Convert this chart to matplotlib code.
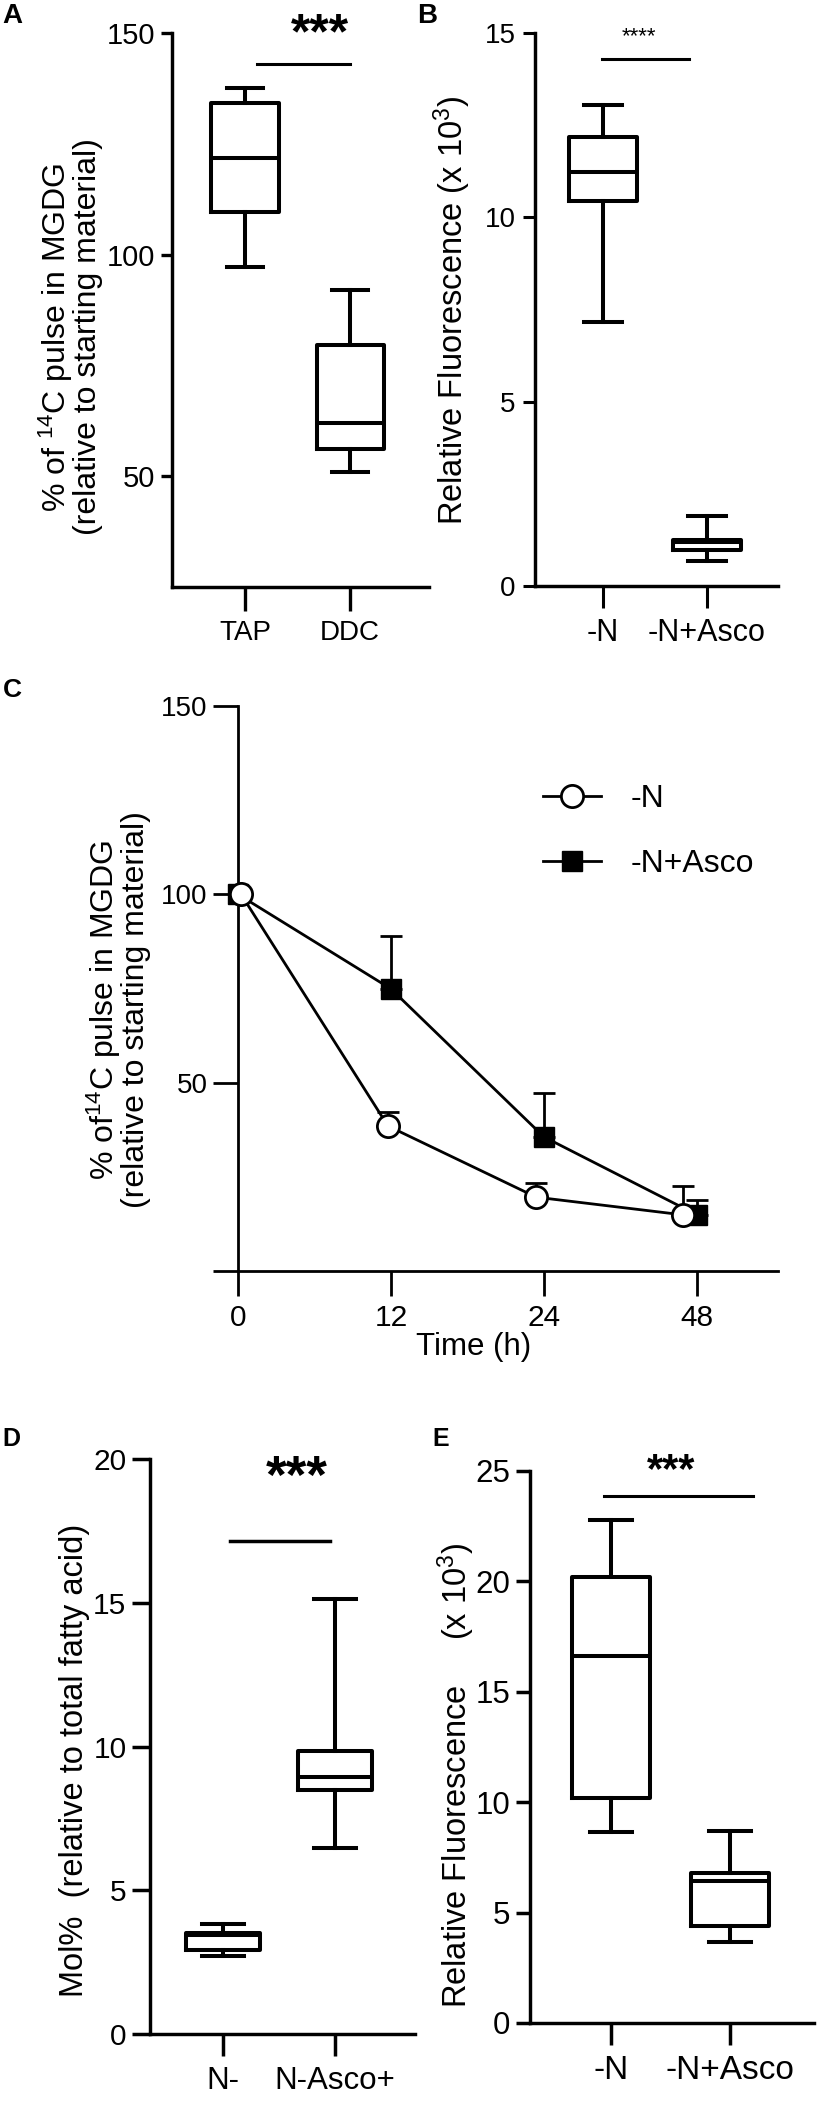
import matplotlib.pyplot as plt
import numpy as np

plt.rcParams['font.family'] = ['Liberation Sans', 'DejaVu Sans']
plt.rcParams['mathtext.fontset'] = 'custom'
plt.rcParams['mathtext.rm'] = 'Liberation Sans'
plt.rcParams['mathtext.it'] = 'Liberation Sans:italic'
plt.rcParams['mathtext.bf'] = 'Liberation Sans:bold'
plt.rcParams['mathtext.default'] = 'regular'

# ---- data ----
# A: 14C pulse in MGDG, box plot (min, q1, median, q3, max)
a_groups = ['TAP', 'DDC']
a_low = [97.1, 51.0]
a_q1 = [109.7, 56.1]
a_med = [121.9, 61.9]
a_q3 = [134.2, 79.7]
a_high = [137.6, 91.9]

# B: relative fluorescence (x10^3)
b_groups = ['-N', '-N+Asco']
b_low = [7.17, 0.68]
b_q1 = [10.45, 0.98]
b_med = [11.23, 1.20]
b_q3 = [12.18, 1.25]
b_high = [13.05, 1.90]

# C: time course, mean + upper SD
c_times = ['0', '12', '24', '48']
c_n_mean = [100, 38.5, 19.6, 14.9]
c_n_err = [0, 3.7, 3.8, 7.7]
c_asco_mean = [100, 74.9, 35.6, 14.9]
c_asco_err = [0, 14.0, 11.7, 3.9]

# D: Mol% relative to total fatty acid
d_groups = ['N-', 'N-Asco+']
d_low = [2.70, 6.47]
d_q1 = [2.92, 8.47]
d_med = [3.45, 8.95]
d_q3 = [3.50, 9.85]
d_high = [3.83, 15.13]

# E: relative fluorescence (x10^3)
e_groups = ['-N', '-N+Asco']
e_low = [8.65, 3.67]
e_q1 = [10.2, 4.4]
e_med = [16.6, 6.45]
e_q3 = [20.2, 6.8]
e_high = [22.8, 8.7]

W, H = 827, 2105
fig = plt.figure(figsize=(W / 100, H / 100), dpi=100)


def rect(l, t, r, b):
    return [l / W, 1 - b / H, (r - l) / W, (b - t) / H]


def fx(x, y):
    return x / W, 1 - y / H


def make_stats(labels, low, q1, med, q3, high):
    return [dict(label=l, whislo=a, q1=b, med=c, q3=d, whishi=e)
            for l, a, b, c, d, e in zip(labels, low, q1, med, q3, high)]


def box_panel(ax, st, lw, width, capw):
    props = dict(color='black', linewidth=lw)
    ax.bxp(st, positions=[1, 2], widths=width, capwidths=capw, showfliers=False,
           boxprops=props, whiskerprops=props, capprops=props,
           medianprops=dict(color='black', linewidth=lw))
    for s in ['top', 'right']:
        ax.spines[s].set_visible(False)
    for s in ['left', 'bottom']:
        ax.spines[s].set_linewidth(lw * 0.85)


# ---- A ----
axA = fig.add_axes(rect(172, 33, 429, 587))
box_panel(axA, make_stats(a_groups, a_low, a_q1, a_med, a_q3, a_high), 2.9, 0.64, 0.34)
axA.set_xlim(0.305, 2.75)
axA.set_ylim(25, 150)
axA.set_yticks([50, 100, 150])
axA.set_xticks([1, 2], a_groups)
axA.tick_params(axis='y', length=8, width=2.4, labelsize=21, pad=4)
axA.tick_params(axis='x', length=17, width=2.4, labelsize=20, pad=7)
axA.plot([1.114, 2.0], [143, 143], color='black', lw=2.2, clip_on=False)
axA.text(1.714, 149.5, '***', ha='center', va='center', fontsize=36, fontweight='bold')

# ---- B ----
axB = fig.add_axes(rect(535, 33, 778, 586))
box_panel(axB, make_stats(b_groups, b_low, b_q1, b_med, b_q3, b_high), 2.9, 0.66, 0.36)
axB.set_xlim(0.346, 2.683)
axB.set_ylim(0, 15)
axB.set_yticks([0, 5, 10, 15])
axB.set_xticks([1, 2], b_groups)
axB.tick_params(axis='y', length=9, width=2.2, labelsize=20, pad=5)
axB.tick_params(axis='x', length=16, width=2.2, labelsize=22, pad=7)
axB.plot([0.99, 1.827], [14.3, 14.3], color='black', lw=2.2, clip_on=False)
axB.text(1.346, 14.9, '****', ha='center', va='center', fontsize=16,
         family=['Liberation Sans Narrow', 'Liberation Sans'])

# ---- C ----
axC = fig.add_axes(rect(238, 706, 778, 1271))
pos = np.arange(len(c_times))
n_pos = pos + np.array([0.02, -0.02, -0.05, -0.09])
asco_pos = pos.astype(float)
c_n_mean = np.array(c_n_mean)
c_asco_mean = np.array(c_asco_mean)
c_n_err = np.array(c_n_err)
c_asco_err = np.array(c_asco_err)
ka = c_asco_err > 0
kn = c_n_err > 0
axC.errorbar(asco_pos[ka], c_asco_mean[ka], yerr=[np.zeros(ka.sum()), c_asco_err[ka]],
             fmt='none', ecolor='black', elinewidth=2, capsize=8, capthick=2, zorder=2)
axC.errorbar(n_pos[kn], c_n_mean[kn], yerr=[np.zeros(kn.sum()), c_n_err[kn]],
             fmt='none', ecolor='black', elinewidth=2, capsize=8, capthick=2, zorder=2)
la, = axC.plot(asco_pos, c_asco_mean, '-s', color='black', mfc='black', mec='black',
               ms=15, lw=2, clip_on=False, zorder=3, label='-N+Asco')
ln, = axC.plot(n_pos, c_n_mean, '-o', color='black', mfc='white', mec='black',
               ms=16, mew=2, lw=2, clip_on=False, zorder=4, label='-N')
for s in ['top', 'right']:
    axC.spines[s].set_visible(False)
for s in ['left', 'bottom']:
    axC.spines[s].set_linewidth(2.0)
axC.set_xlim(0, 3.53)
axC.set_ylim(0, 150)
axC.set_yticks([0, 50, 100, 150], ['', '50', '100', '150'])
axC.set_xticks(pos, c_times)
axC.tick_params(axis='y', length=18, width=2.0, labelsize=20, pad=4)
axC.tick_params(axis='x', length=18, width=2.0, labelsize=21.5, pad=6)
for t in axC.get_yticklabels():
    t.set_family(['Liberation Sans Narrow', 'Liberation Sans'])
fig.text(*fx(474, 1347), 'Time (h)', ha='center', va='center', fontsize=22.5)
leg = axC.legend(handles=[ln, la], loc='upper left', bbox_to_anchor=fx(543, 784),
                 bbox_transform=fig.transFigure, frameon=False, fontsize=23,
                 handlelength=1.8, handletextpad=0.95, labelspacing=1.1,
                 borderpad=0, borderaxespad=0)

# ---- D ----
axD = fig.add_axes(rect(150, 1459, 415, 2034))
box_panel(axD, make_stats(d_groups, d_low, d_q1, d_med, d_q3, d_high), 2.9, 0.66, 0.37)
axD.set_xlim(0.348, 2.714)
axD.set_ylim(0, 20)
axD.set_yticks([0, 5, 10, 15, 20])
axD.set_xticks([1, 2], d_groups)
axD.tick_params(axis='y', length=13, width=2.5, labelsize=21.5, pad=4)
axD.tick_params(axis='x', length=16, width=2.5, labelsize=22.5, pad=7)
axD.plot([1.062, 1.955], [17.15, 17.15], color='black', lw=2.5, clip_on=False)
axD.text(1.66, 19.3, '***', ha='center', va='center', fontsize=38, fontweight='bold')

# ---- E ----
axE = fig.add_axes(rect(530, 1471, 814, 2023))
box_panel(axE, make_stats(e_groups, e_low, e_q1, e_med, e_q3, e_high), 2.9, 0.66, 0.35)
axE.set_xlim(0.319, 2.706)
axE.set_ylim(0, 25)
axE.set_yticks([0, 5, 10, 15, 20, 25])
axE.set_xticks([1, 2], e_groups)
axE.tick_params(axis='y', length=10, width=2.5, labelsize=22.5, pad=4)
axE.tick_params(axis='x', length=16, width=2.5, labelsize=24, pad=7)
axE.plot([0.941, 2.193], [23.87, 23.87], color='black', lw=2.2, clip_on=False)
axE.text(1.504, 25.0, '***', ha='center', va='center', fontsize=30, fontweight='bold')

# ---- axis titles ----
fig.text(*fx(70, 337), '% of $^{14}$C pulse in MGDG\n(relative to starting material)',
         rotation=90, ha='center', va='center', fontsize=23, linespacing=0.92)
fig.text(*fx(452, 310), 'Relative Fluorescence (x 10$^{3}$)',
         rotation=90, ha='center', va='center', fontsize=23.5)
fig.text(*fx(118, 1010), '% of$^{14}$C pulse in MGDG\n(relative to starting material)',
         rotation=90, ha='center', va='center', fontsize=23, linespacing=0.92)
fig.text(*fx(75, 1760), 'Mol%  (relative to total fatty acid)',
         rotation=90, ha='center', va='center', fontsize=23.5)
fig.text(*fx(456, 1775), 'Relative Fluorescence     (x 10$^{3}$)',
         rotation=90, ha='center', va='center', fontsize=23.5)

# ---- panel letters ----
for letter, (x, y), size in [('A', (2, 3), 20), ('B', (417, 3), 20), ('C', (3, 678), 19),
                             ('D', (2, 1427), 18), ('E', (432, 1427), 18)]:
    fig.text(*fx(x, y), letter, ha='left', va='top', fontsize=size, fontweight='bold')

fig.savefig('out.png', dpi=100)
